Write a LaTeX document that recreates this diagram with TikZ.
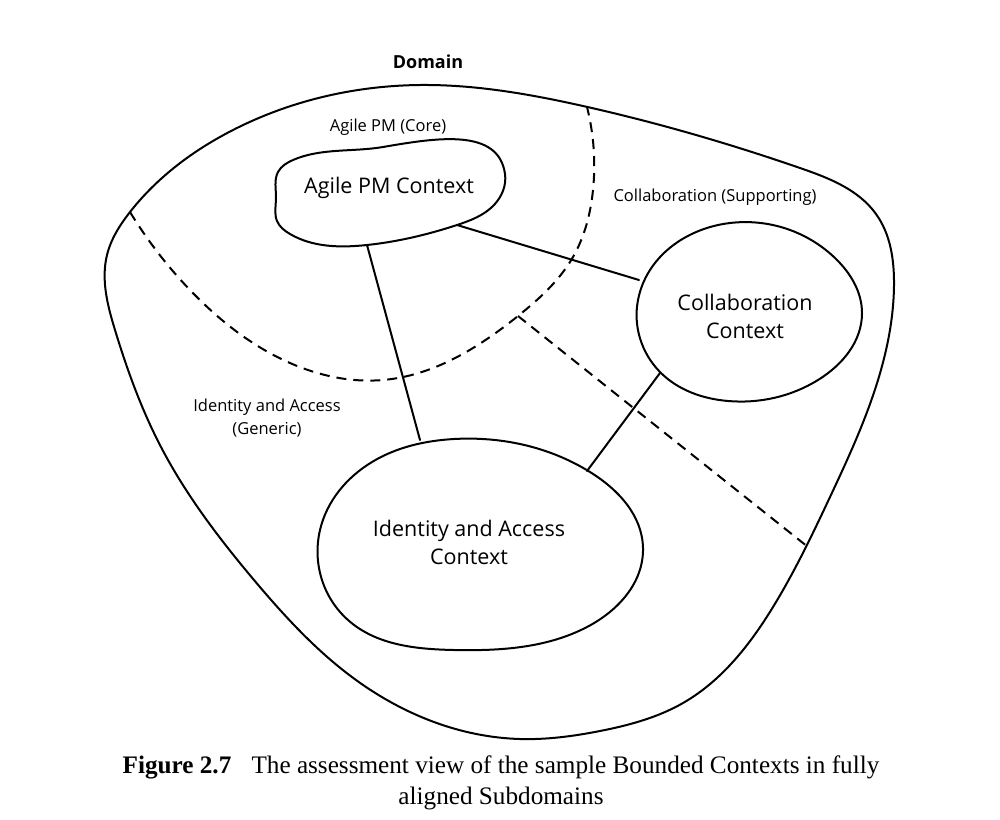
\documentclass[tikz,border=0pt]{standalone}
\usepackage{fontspec}
\usetikzlibrary{hobby}
\setmainfont{Liberation Serif}
\newfontfamily\hand{Open Sans}
\begin{document}
\begin{tikzpicture}[x=1pt,y=-1pt,
  solidline/.style={line width=2pt, line join=round, line cap=round},
  dashline/.style={line width=2pt, dash pattern=on 10pt off 7pt},
  lbl/.style={font=\hand\fontsize{16.5}{23}\selectfont, inner sep=0pt, align=center},
  ctx/.style={font=\hand\fontsize{21.5}{28}\selectfont, inner sep=0pt, align=center}]
\useasboundingbox (0,0) rectangle (1000,819);
% outer domain
\draw[solidline, use Hobby shortcut, closed=true]
 (420,85) .. (583,106) .. (800,168) .. (876,214) .. (894,285) .. (878,380)
 .. (830,497) .. (773,607) .. (683,703) .. (600,731) .. (520,739) .. (356,680) .. (254,580)
 .. (161,447) .. (115,330) .. (107,255) .. (130,212) .. (233,130) .. (420,85);
% subdomain boundaries
\coordinate (c1) at (130,212);
\coordinate (c2) at (587,107);
\coordinate (c3) at (518,316);
\coordinate (c4) at (808,547);
\draw[dashline, use Hobby shortcut]
 (c1) .. (190,290) .. (290,363) .. (383,380) .. (c3) .. (573,257) .. (593,190) .. (c2);
\draw[dashline] (c3) -- (c4);
% Agile PM context
\draw[solidline, use Hobby shortcut, closed=true]
 (276,198) .. (278,172) .. (293,160) .. (383,147) .. (505,174) .. (494,205)
 .. (457,225) .. (367,245) .. (290,234) .. (277,221) .. (276,198);
% Collaboration context
\draw[solidline, use Hobby shortcut, closed=true]
 (638,300) .. (730,223) .. (835,258) .. (862,313) .. (818,380) .. (728,401)
 .. (660,372) .. (638,300);
% Identity context
\draw[solidline, use Hobby shortcut, closed=true]
 (454,439) .. (590,472) .. (643,548) .. (587,627) .. (454,650) .. (348,620)
 .. (320,530) .. (372,462) .. (454,439);
% connector end points on the contexts
\coordinate (a1) at (367,245);
\coordinate (a2) at (457,225);
\coordinate (b1) at (639,280);
\coordinate (b2) at (660,373);
\coordinate (i1) at (420,440);
\coordinate (i2) at (587,471);
\draw[solidline] (a1) -- (i1);
\draw[solidline] (a2) -- (b1);
\draw[solidline] (b2) -- (i2);
% labels
\node[lbl, font=\hand\bfseries\fontsize{18}{20}\selectfont] (domain) at (428,62) {Domain};
\node[lbl] (corelbl) at (388,127) {Agile PM (Core)};
\node[lbl] (suplbl) at (715,197) {Collaboration (Supporting)};
\node[lbl] (genlbl) at (267,418) {Identity and Access\\(Generic)};
\node[ctx] (agile) at (389,188) {Agile PM Context};
\node[ctx] (collab) at (745,316) {Collaboration\\Context};
\node[ctx] (ident) at (469,542) {Identity and Access\\Context};
% caption
\node[inner sep=0pt, align=center, font=\fontsize{25.2}{31}\selectfont] (caption) at (501,783)
 {\textbf{Figure 2.7}\hspace{0.8em}The assessment view of the sample Bounded Contexts in fully\\aligned Subdomains};
\end{tikzpicture}
\end{document}
